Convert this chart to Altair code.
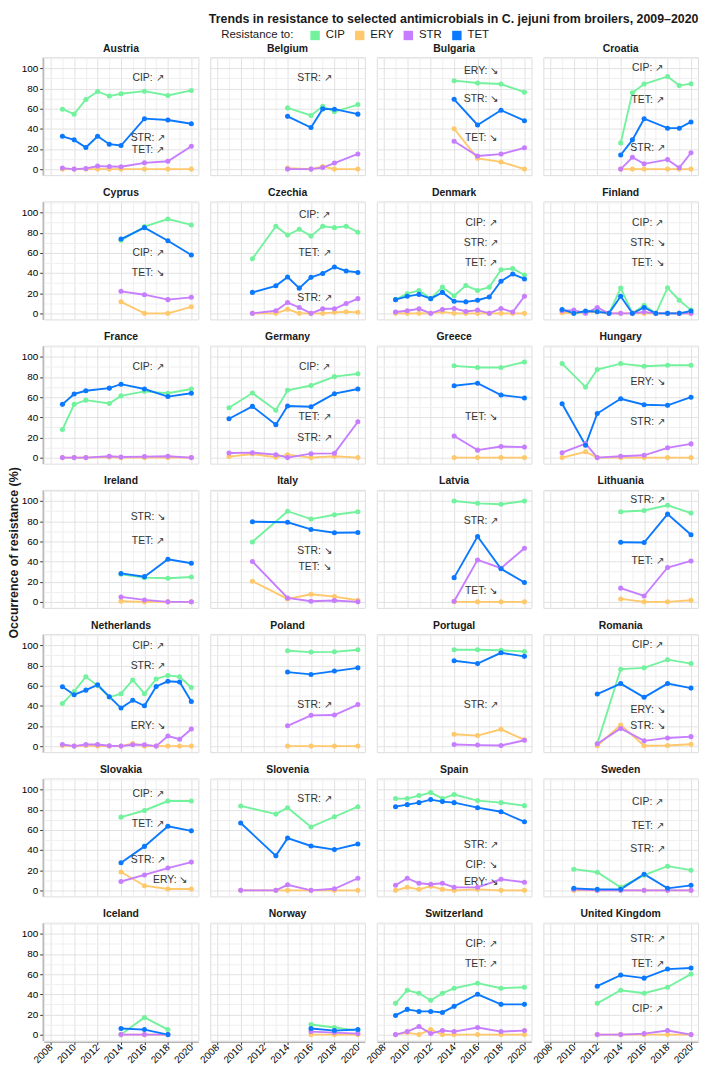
import altair as alt
import pandas as pd

countries = ["Austria", "Belgium", "Bulgaria", "Croatia", "Cyprus", "Czechia", "Denmark",
             "Finland", "France", "Germany", "Greece", "Hungary", "Ireland", "Italy", "Latvia",
             "Lithuania", "Netherlands", "Poland", "Portugal", "Romania", "Slovakia", "Slovenia",
             "Spain", "Sweden", "Iceland", "Norway", "Switzerland", "United Kingdom"]
drugs = ["CIP", "ERY", "STR", "TET"]
drug_colors = ["#72f29d", "#ffc86b", "#c77dff", "#0a79ff"]

austria_years = [2009, 2010, 2011, 2012, 2013, 2014, 2016, 2018, 2020]
austria_cip = [59.4, 54.5, 69, 77, 72.4, 74.7, 77.3, 73, 78]
austria_ery = [0, 0, 0, 0, 0, 0, 0, 0, 0]
austria_str = [1, 0, 0.6, 3, 2.6, 2.3, 6.2, 7.8, 22.7]
austria_tet = [32.5, 29, 21.4, 32.5, 24.7, 23.4, 50, 48.7, 45]

belgium_years = [2014, 2016, 2017, 2018, 2020]
belgium_cip = [60.7, 53.2, 62.3, 56.8, 64]
belgium_ery = [1, 0, 2.5, 0, 0]
belgium_str = [0, 0, 1.5, 6, 15]
belgium_tet = [52.3, 41.2, 59.7, 59.4, 54.5]

bulgaria_years = [2014, 2016, 2018, 2020]
bulgaria_cip = [87.7, 85.4, 84.4, 76.3]
bulgaria_ery = [40, 10.7, 7.1, 0]
bulgaria_str = [27.6, 13, 14.9, 21.1]
bulgaria_tet = [69.2, 43.8, 58.4, 48]

croatia_years = [2014, 2015, 2016, 2018, 2019, 2020]
croatia_cip = [26, 75.6, 84.4, 91.9, 82.8, 84.7]
croatia_ery = [0, 0, 0, 0, 0, 0]
croatia_str = [0, 11.7, 5.2, 9.4, 1.3, 16.2]
croatia_tet = [14, 29, 50, 40.6, 40.6, 46.8]

cyprus_years = [2014, 2016, 2018, 2020]
cyprus_cip = [72.4, 86, 93.5, 87.7]
cyprus_ery = [11.4, 0, 0, 6.5]
cyprus_str = [21.8, 18.5, 13.6, 15.9]
cyprus_tet = [73.7, 85, 72, 57.8]

czechia_years = [2011, 2013, 2014, 2015, 2016, 2017, 2018, 2019, 2020]
czechia_cip = [54.2, 86.4, 77.6, 83.4, 76.6, 86.4, 85, 86.4, 80.5]
czechia_ery = [0, 0, 4, 0, 0, 0, 1, 1.6, 1]
czechia_str = [0, 2.6, 10.7, 5.8, 0, 4.5, 4.5, 9.7, 14.6]
czechia_tet = [20.8, 27.3, 36, 25, 35.7, 39.6, 46, 42, 40.6]

denmark_years = [2009, 2010, 2011, 2012, 2013, 2014, 2015, 2016, 2017, 2018, 2019, 2020]
denmark_cip = [13.6, 19.5, 22.7, 14.6, 26, 17.5, 27.6, 22.7, 26, 43.2, 44.5, 38]
denmark_ery = [0, 0, 0, 0, 1.5, 0, 0, 0, 0, 0, 0, 0]
denmark_str = [1.3, 2.6, 4.5, 0, 3.9, 4.9, 1.9, 3.2, 0, 4.9, 1.3, 16.9]
denmark_tet = [13.6, 16.9, 18.8, 14.6, 20.8, 12, 11.4, 13, 16.2, 31.8, 39, 34.1]

finland_years = [2009, 2010, 2011, 2012, 2013, 2014, 2015, 2016, 2017, 2018, 2019, 2020]
finland_cip = [3.2, 0, 1.6, 2.6, 0, 25, 0, 8, 0, 25.3, 13, 3.2]
finland_ery = [0.6, 0, 1.3, 1.6, 0, 0, 0, 0, 0, 0, 0, 0]
finland_str = [2.6, 3.2, 0, 5.8, 0, 0, 0, 1.3, 0, 0, 0, 0]
finland_tet = [3.9, 0, 2.3, 1.6, 0, 16.9, 0, 5.8, 0, 0, 0, 2.3]

france_years = [2009, 2010, 2011, 2013, 2014, 2016, 2018, 2020]
france_cip = [27.8, 52.8, 57, 53.7, 61.2, 65.7, 63.8, 68]
france_ery = [0, 0, 0, 0.5, 0, 0, 0, 0]
france_str = [0, 0, 0, 1.3, 0.6, 1, 1.3, 0]
france_tet = [52.8, 63.1, 66.3, 68.9, 72.8, 68, 60.5, 63.8]

germany_years = [2009, 2011, 2013, 2014, 2016, 2018, 2020]
germany_cip = [49.5, 64, 47, 66.7, 71.5, 80.3, 83.2]
germany_ery = [1, 3.6, 0.3, 2.9, 0, 1.3, 0]
germany_str = [4.5, 4.9, 2.9, 0, 3.9, 4.2, 35.6]
germany_tet = [38.5, 50.8, 32.7, 51.1, 50.5, 63.4, 68]

greece_years = [2014, 2016, 2018, 2020]
greece_cip = [91, 89.3, 89.3, 94.8]
greece_ery = [0, 0, 0, 0]
greece_str = [21.4, 7.4, 11, 10.4]
greece_tet = [71.2, 73.8, 62.1, 59.2]

hungary_years = [2009, 2011, 2012, 2014, 2016, 2018, 2020]
hungary_cip = [93.2, 69.9, 87.4, 93.2, 90.6, 91.6, 91.6]
hungary_ery = [0, 5.8, 0, 0, 0, 0, 0]
hungary_str = [4.9, 13.9, 0, 1.3, 2.3, 9.7, 13.6]
hungary_tet = [53.4, 12.3, 43.7, 58.3, 52.4, 51.8, 59.9]

ireland_years = [2014, 2016, 2018, 2020]
ireland_cip = [27.3, 24, 23.4, 24.7]
ireland_ery = [0.6, 0, 0, 0]
ireland_str = [4.9, 1.9, 0, 0]
ireland_tet = [28.2, 25, 42.2, 38.3]

italy_years = [2011, 2014, 2016, 2018, 2020]
italy_cip = [59.4, 89.9, 82.1, 86.4, 89.3]
italy_ery = [20.5, 2.9, 7.5, 5.2, 1.6]
italy_str = [40, 3.9, 0.6, 1.3, 0]
italy_tet = [79.5, 78.9, 71.8, 68.5, 68.8]

latvia_years = [2014, 2016, 2018, 2020]
latvia_cip = [100, 97.7, 96.8, 100]
latvia_ery = [0, 0, 0, 0]
latvia_str = [0.6, 41.6, 33.4, 53.2]
latvia_tet = [24, 64.9, 32.8, 19.2]

lithuania_years = [2014, 2016, 2018, 2020]
lithuania_cip = [89.3, 90.6, 95.8, 88]
lithuania_ery = [2.9, 0, 0, 1.6]
lithuania_str = [13.6, 5.8, 34.1, 40.6]
lithuania_tet = [59.1, 58.8, 87, 66.6]

netherlands_years = [2009, 2010, 2011, 2012, 2013, 2014, 2015, 2016, 2017, 2018, 2019, 2020]
netherlands_cip = [42.2, 54.2, 68.8, 60, 48.4, 52, 65.6, 52, 66.6, 70.1, 68.8, 58.1]
netherlands_ery = [0.6, 0, 0.6, 0, 0, 0, 2.6, 0, 0, 0, 0, 0]
netherlands_str = [1.6, 0, 1.6, 1.6, 0.3, 0, 1.3, 1.3, 0, 10, 6.8, 16.9]
netherlands_tet = [58.8, 51, 55.5, 60.7, 49, 37.7, 45.5, 40, 59.1, 64.3, 63.6, 44.2]

poland_years = [2014, 2016, 2018, 2020]
poland_cip = [94.5, 93.2, 93.5, 95.5]
poland_ery = [0, 0, 0, 0]
poland_str = [20.1, 30.5, 30.8, 41.2]
poland_tet = [73.4, 71.1, 74.4, 77.6]

portugal_years = [2014, 2016, 2018, 2020]
portugal_cip = [95.5, 95.5, 95.1, 93.8]
portugal_ery = [11.7, 10.4, 16.6, 6.2]
portugal_str = [1.6, 1, 0.6, 5.8]
portugal_tet = [84.7, 81.8, 92.5, 89]

romania_years = [2012, 2014, 2016, 2018, 2020]
romania_cip = [2.3, 76.3, 77.6, 85.7, 81.8]
romania_ery = [0.3, 20.8, 0.3, 0.6, 1.9]
romania_str = [2.3, 17.5, 5.2, 8.1, 9.4]
romania_tet = [51.6, 62, 48.4, 62, 57.5]

slovakia_years = [2014, 2016, 2018, 2020]
slovakia_cip = [72.6, 79.2, 88.6, 88.6]
slovakia_ery = [18.2, 4.6, 1.3, 1.3]
slovakia_str = [8.8, 15.3, 22.1, 28]
slovakia_tet = [27.4, 43.6, 63.5, 59]

slovenia_years = [2010, 2013, 2014, 2016, 2018, 2020]
slovenia_cip = [83.7, 75.6, 82, 62.9, 73, 83]
slovenia_ery = [0, 0, 0, 0, 0, 0]
slovenia_str = [0, 0, 5.5, 0, 1.6, 12]
slovenia_tet = [66.8, 34.2, 51.8, 44, 40.4, 46]

spain_years = [2009, 2010, 2011, 2012, 2013, 2014, 2016, 2018, 2020]
spain_cip = [91, 91, 94, 97, 91, 95, 89, 87, 84]
spain_ery = [0, 3, 1, 4, 1, 0, 1, 0, 0]
spain_str = [5, 12, 7, 6, 7, 3, 3, 11, 8]
spain_tet = [83, 85, 87, 90, 88, 87, 82, 78, 68]

sweden_years = [2010, 2012, 2014, 2016, 2018, 2020]
sweden_cip = [21, 18, 3, 15, 24, 20]
sweden_ery = [0, 0, 0, 0, 0, 0]
sweden_str = [1, 0, 0, 0, 0, 0]
sweden_tet = [2, 1, 1, 16, 2, 5]

iceland_years = [2014, 2016, 2018]
iceland_cip = [0, 17, 5]
iceland_ery = [0, 0, 0]
iceland_str = [0, 0, 0]
iceland_tet = [6, 5, 0]

norway_years = [2016, 2018, 2020]
norway_cip = [10, 7, 4]
norway_ery = [0, 0, 0]
norway_str = [3, 2, 1]
norway_tet = [6, 4, 5]

switzerland_years = [2009, 2010, 2011, 2012, 2013, 2014, 2016, 2018, 2020]
switzerland_cip = [31, 44, 41, 34, 41, 46, 51, 46, 47]
switzerland_ery = [0, 2, 0, 5, 0, 0, 0, 0, 0]
switzerland_str = [0, 3, 8, 1, 4, 3, 7, 3, 4]
switzerland_tet = [19, 25, 23, 23, 22, 28, 40, 30, 30]

uk_years = [2012, 2014, 2016, 2018, 2020]
uk_cip = [31, 44, 41, 47, 60]
uk_ery = [0, 0, 0, 0, 0]
uk_str = [0, 0, 1, 4, 0]
uk_tet = [48, 59, 56, 65, 66]

# trend annotations
annot_country = ["Austria", "Austria", "Austria", "Belgium", "Bulgaria", "Bulgaria", "Bulgaria",
                 "Croatia", "Croatia", "Croatia", "Cyprus", "Cyprus", "Czechia", "Czechia", "Czechia",
                 "Denmark", "Denmark", "Denmark", "Finland", "Finland", "Finland", "France",
                 "Germany", "Germany", "Germany", "Greece", "Hungary", "Hungary", "Ireland", "Ireland",
                 "Italy", "Italy", "Latvia", "Latvia", "Lithuania", "Lithuania",
                 "Netherlands", "Netherlands", "Netherlands", "Poland", "Portugal",
                 "Romania", "Romania", "Romania", "Slovakia", "Slovakia", "Slovakia", "Slovakia",
                 "Slovenia", "Spain", "Spain", "Spain", "Sweden", "Sweden", "Sweden",
                 "Switzerland", "Switzerland", "United Kingdom", "United Kingdom", "United Kingdom"]
annot_label = ["CIP: ↗", "STR: ↗", "TET: ↗", "STR: ↗", "ERY: ↘", "STR: ↘", "TET: ↘",
               "CIP: ↗", "TET: ↗", "STR: ↗", "CIP: ↗", "TET: ↘", "CIP: ↗", "TET: ↗", "STR: ↗",
               "CIP: ↗", "STR: ↗", "TET: ↗", "CIP: ↗", "STR: ↘", "TET: ↘", "CIP: ↗",
               "CIP: ↗", "TET: ↗", "STR: ↗", "TET: ↘", "ERY: ↘", "STR: ↗", "STR: ↘", "TET: ↗",
               "STR: ↘", "TET: ↘", "STR: ↗", "TET: ↘", "STR: ↗", "TET: ↗",
               "CIP: ↗", "STR: ↗", "ERY: ↘", "STR: ↗", "STR: ↗",
               "CIP: ↗", "ERY: ↘", "STR: ↘", "CIP: ↗", "TET: ↗", "STR: ↗", "ERY: ↘",
               "STR: ↗", "STR: ↗", "CIP: ↘", "ERY: ↘", "CIP: ↗", "TET: ↗", "STR: ↗",
               "CIP: ↗", "TET: ↗", "STR: ↗", "TET: ↗", "CIP: ↗"]
annot_year = [2016.3] * len(annot_label)
annot_year[47] = 2018.2
annot_value = [90, 30.8, 18.5, 90.3, 96.8, 69, 30.8,
               100, 68.2, 20.5, 60, 40, 97.4, 60, 15.6,
               90, 69.8, 50.3, 90, 69.8, 50.3, 90,
               90, 39.8, 19.7, 40.5, 75.4, 35.6, 84.4, 60,
               50.3, 34.7, 80.2, 10.4, 100.6, 40.6,
               99.7, 79.5, 20.1, 40.3, 40.3,
               100.6, 35.7, 20.1, 95.4, 65.8, 30.3, 9.8,
               90.6, 44.6, 25, 8, 87.6, 64, 40.7,
               90, 69.5, 95, 70, 25]

y_title = ["Occurrence of resistance (%)"]

series = {
    "Austria": (austria_years, austria_cip, austria_ery, austria_str, austria_tet),
    "Belgium": (belgium_years, belgium_cip, belgium_ery, belgium_str, belgium_tet),
    "Bulgaria": (bulgaria_years, bulgaria_cip, bulgaria_ery, bulgaria_str, bulgaria_tet),
    "Croatia": (croatia_years, croatia_cip, croatia_ery, croatia_str, croatia_tet),
    "Cyprus": (cyprus_years, cyprus_cip, cyprus_ery, cyprus_str, cyprus_tet),
    "Czechia": (czechia_years, czechia_cip, czechia_ery, czechia_str, czechia_tet),
    "Denmark": (denmark_years, denmark_cip, denmark_ery, denmark_str, denmark_tet),
    "Finland": (finland_years, finland_cip, finland_ery, finland_str, finland_tet),
    "France": (france_years, france_cip, france_ery, france_str, france_tet),
    "Germany": (germany_years, germany_cip, germany_ery, germany_str, germany_tet),
    "Greece": (greece_years, greece_cip, greece_ery, greece_str, greece_tet),
    "Hungary": (hungary_years, hungary_cip, hungary_ery, hungary_str, hungary_tet),
    "Ireland": (ireland_years, ireland_cip, ireland_ery, ireland_str, ireland_tet),
    "Italy": (italy_years, italy_cip, italy_ery, italy_str, italy_tet),
    "Latvia": (latvia_years, latvia_cip, latvia_ery, latvia_str, latvia_tet),
    "Lithuania": (lithuania_years, lithuania_cip, lithuania_ery, lithuania_str, lithuania_tet),
    "Netherlands": (netherlands_years, netherlands_cip, netherlands_ery, netherlands_str, netherlands_tet),
    "Poland": (poland_years, poland_cip, poland_ery, poland_str, poland_tet),
    "Portugal": (portugal_years, portugal_cip, portugal_ery, portugal_str, portugal_tet),
    "Romania": (romania_years, romania_cip, romania_ery, romania_str, romania_tet),
    "Slovakia": (slovakia_years, slovakia_cip, slovakia_ery, slovakia_str, slovakia_tet),
    "Slovenia": (slovenia_years, slovenia_cip, slovenia_ery, slovenia_str, slovenia_tet),
    "Spain": (spain_years, spain_cip, spain_ery, spain_str, spain_tet),
    "Sweden": (sweden_years, sweden_cip, sweden_ery, sweden_str, sweden_tet),
    "Iceland": (iceland_years, iceland_cip, iceland_ery, iceland_str, iceland_tet),
    "Norway": (norway_years, norway_cip, norway_ery, norway_str, norway_tet),
    "Switzerland": (switzerland_years, switzerland_cip, switzerland_ery, switzerland_str, switzerland_tet),
    "United Kingdom": (uk_years, uk_cip, uk_ery, uk_str, uk_tet),
}

rows = []
for di, drug in enumerate(drugs):
    for c in countries:
        yrs = series[c][0]
        vals = series[c][di + 1]
        for y, v in zip(yrs, vals):
            rows.append({"kind": "s", "country": c, "drug": drug, "year": y, "value": v, "label": ""})
for c, l, x, v in zip(annot_country, annot_label, annot_year, annot_value):
    rows.append({"kind": "a", "country": c, "drug": "", "year": x, "value": v, "label": l})
df = pd.DataFrame(rows)

FONT = "Liberation Sans"
xscale = alt.Scale(domain=[2007.4, 2020.6], nice=False, zero=False)
yscale = alt.Scale(domain=[-6, 111], nice=False)

even_x = "datum.value % 2 === 0"
xaxis = alt.Axis(values=list(range(2008, 2021)), format="d",
                 labelExpr="datum.value % 2 === 0 ? datum.label : ''",
                 labelAngle=315, labelAlign="right", labelBaseline="middle",
                 gridColor=alt.condition(even_x, alt.value("#e2e2e2"), alt.value("#efefef")),
                 tickColor=alt.condition(even_x, alt.value("#333333"), alt.value("transparent")),
                 tickSize=3, labelPadding=1, title=None)
even_y = "datum.value % 20 === 0"
yaxis = alt.Axis(values=list(range(0, 111, 10)),
                 labelExpr="datum.value % 20 === 0 ? datum.label : ''",
                 gridColor=alt.condition(even_y, alt.value("#e2e2e2"), alt.value("#efefef")),
                 tickColor=alt.condition(even_y, alt.value("#333333"), alt.value("transparent")),
                 tickSize=3, labelPadding=2, title=None)

legend = alt.Legend(title="Resistance to:", orient="none", legendX=214, legendY=-28,
                    direction="horizontal", titleOrient="left",
                    symbolType="square", symbolSize=90, symbolOpacity=1,
                    symbolStrokeWidth=0, columnPadding=9, labelOffset=5,
                    titleFont=FONT, labelFont=FONT, titleFontSize=11.5,
                    labelFontSize=11.5, titleFontWeight="normal",
                    titleColor="#1a1a1a", labelColor="#1a1a1a", titlePadding=16)
color = alt.Color("drug:N", scale=alt.Scale(domain=drugs, range=drug_colors), legend=legend)

X = alt.X("year:Q", scale=xscale, axis=xaxis)
Y = alt.Y("value:Q", scale=yscale, axis=yaxis)

lines = alt.Chart().transform_filter(alt.datum.kind == "s").mark_line(strokeWidth=1.9).encode(
    x=X, y=Y, color=color)
points = alt.Chart().transform_filter(alt.datum.kind == "s").mark_circle(size=26, opacity=1).encode(
    x=X, y=Y, color=color)
texts = alt.Chart().transform_filter(alt.datum.kind == "a").mark_text(
    fontSize=10.5, font=FONT, color="#333333").encode(x=X, y=Y, text="label:N")

facets = alt.layer(lines, points, texts, data=df).properties(width=156, height=119).facet(
    facet=alt.Facet("country:N", sort=countries,
                    header=alt.Header(title=None, labelFontWeight="bold", labelFontSize=10.5,
                                      labelFont=FONT, labelColor="#1a1a1a", labelPadding=3)),
    columns=4, spacing={"row": 11.5, "column": 10}
)

ytitle = alt.Chart(pd.DataFrame({"t": y_title})).mark_text(
    angle=270, font=FONT, fontSize=12.5, fontWeight="bold", color="#1a1a1a"
).encode(text="t:N", x=alt.value(5), y=alt.value(500)).properties(
    width=12, height=1000, view=alt.ViewBackground(strokeOpacity=0))

chart = alt.hconcat(ytitle, facets, spacing=0).properties(
    title=alt.TitleParams("Trends in resistance to selected antimicrobials in C. jejuni from broilers, 2009–2020",
                          anchor="end", fontSize=12.5, fontWeight="bold", font=FONT, color="#1a1a1a",
                          offset=4)
).configure_view(stroke="#333333", strokeWidth=1.2).configure_axis(
    domain=False, labelFont=FONT, labelFontSize=11, labelColor="#4d4d4d"
).configure_concat(spacing=0).configure(padding={"left": 0, "top": 0, "right": 2, "bottom": 0})

chart.save("out.html", embed_options={"renderer": "svg", "actions": False})
